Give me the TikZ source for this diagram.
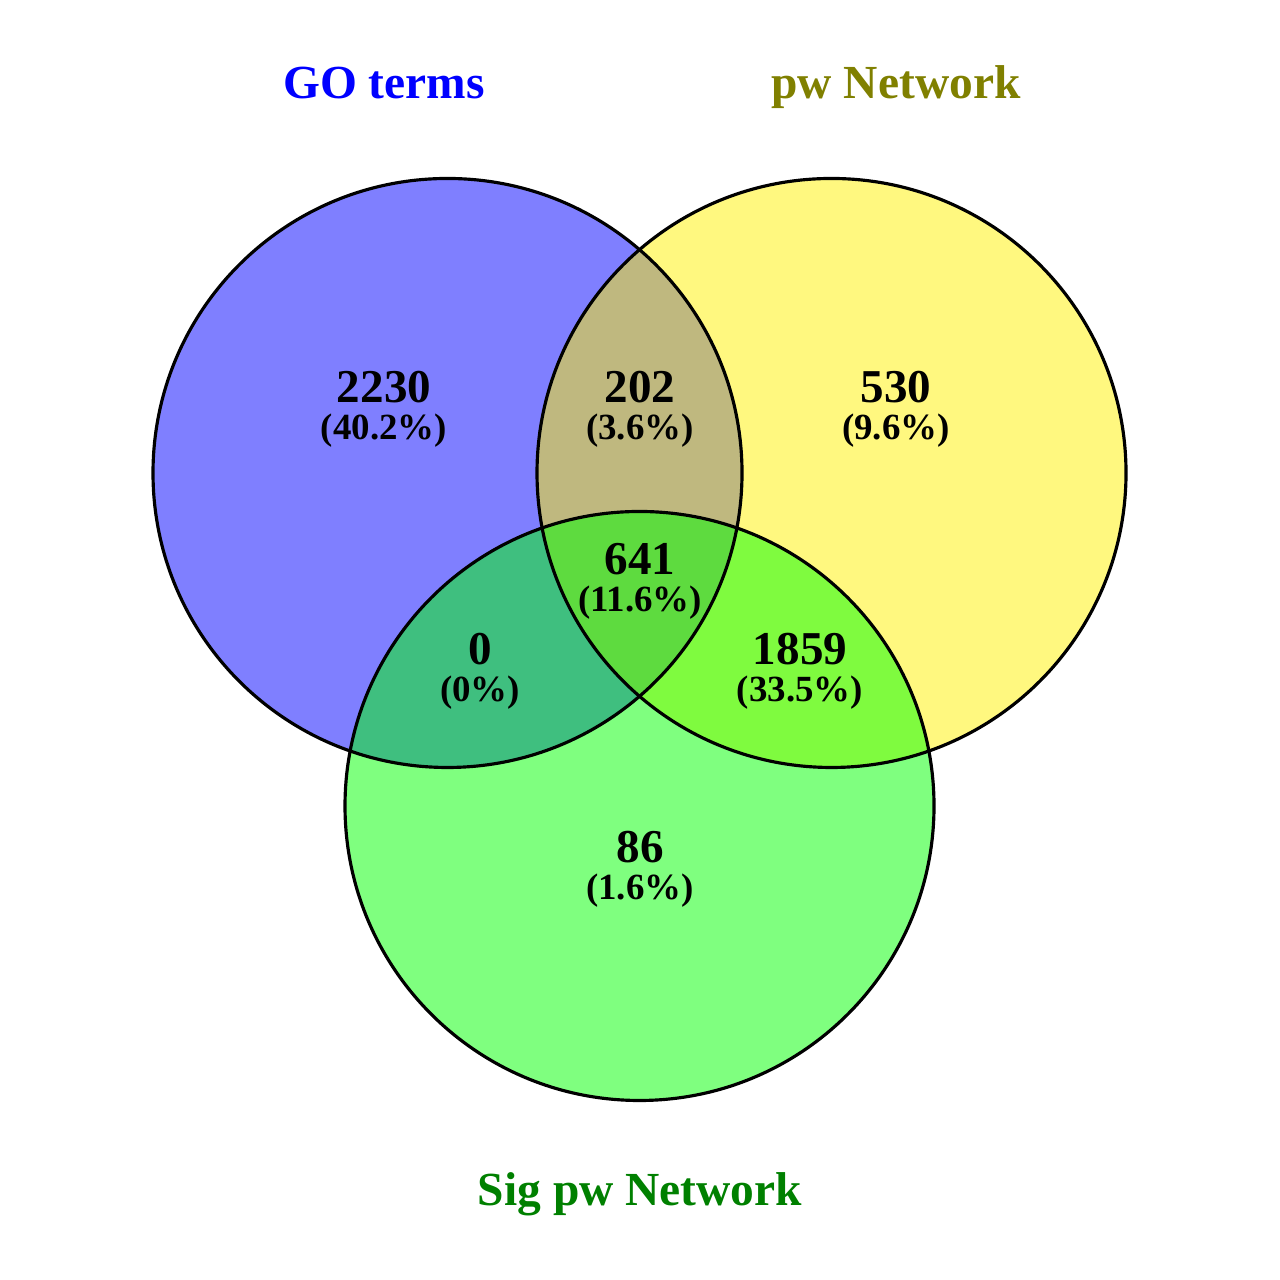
\documentclass[tikz,border=0pt]{standalone}
\usepackage{fontspec}
\setmainfont{Liberation Serif}
\usepackage{xcolor}
\usepackage{tikz}
\definecolor{goblue}{HTML}{0000FF}
\definecolor{pwolive}{HTML}{808000}
\definecolor{siggreen}{HTML}{008000}

\begin{document}
\begin{tikzpicture}[
    count/.style={font=\fontsize{13.4}{16}\selectfont\bfseries, anchor=base, inner sep=0pt},
    share/.style={font=\fontsize{10.5}{13}\selectfont\bfseries, anchor=base, inner sep=0pt},
    setname/.style={font=\fontsize{13.5}{16}\selectfont\bfseries, anchor=base, inner sep=0pt},
    ring/.style={line width=0.9pt, black}]
  \useasboundingbox (0,0) rectangle (12.8,12.8);
  % ── Circle centres ──────────────────────────────────────
  \coordinate (go)  at (4.475,8.07);
  \coordinate (pw)  at (8.315,8.07);
  \coordinate (sig) at (6.395,4.74);
  % ── Filled sets (half transparent) ──────────────────────
  \fill[blue,   fill opacity=0.5] (go)  circle (2.945);
  \fill[yellow, fill opacity=0.5] (pw)  circle (2.945);
  \fill[green,  fill opacity=0.5] (sig) circle (2.945);
  % Outlines
  \draw[ring] (go)  circle (2.945);
  \draw[ring] (pw)  circle (2.945);
  \draw[ring] (sig) circle (2.945);
  % ── Set names ───────────────────────────────────────────
  \node[setname, text=goblue]   (goname)  at (3.84,11.81) {GO terms};
  \node[setname, text=pwolive]  (pwname)  at (8.96,11.81) {pw Network};
  \node[setname, text=siggreen] (signame) at (6.40,0.74)  {Sig pw Network};
  % ── Region counts ───────────────────────────────────────
  \node[count] (goonly)   at (3.84,8.77) {2230};
  \node[share] (goonlyp)  at (3.84,8.40) {(40.2\%)};
  \node[count] (gopw)     at (6.40,8.77) {202};
  \node[share] (gopwp)    at (6.40,8.40) {(3.6\%)};
  \node[count] (pwonly)   at (8.96,8.77) {530};
  \node[share] (pwonlyp)  at (8.96,8.40) {(9.6\%)};
  \node[count] (allthree) at (6.40,7.05) {641};
  \node[share] (allthreep) at (6.40,6.68) {(11.6\%)};
  \node[count] (gosig)    at (4.80,6.15) {0};
  \node[share] (gosigp)   at (4.80,5.78) {(0\%)};
  \node[count] (pwsig)    at (8.00,6.15) {1859};
  \node[share] (pwsigp)   at (8.00,5.78) {(33.5\%)};
  \node[count] (sigonly)  at (6.40,4.17) {86};
  \node[share] (sigonlyp) at (6.40,3.80) {(1.6\%)};
\end{tikzpicture}
\end{document}
